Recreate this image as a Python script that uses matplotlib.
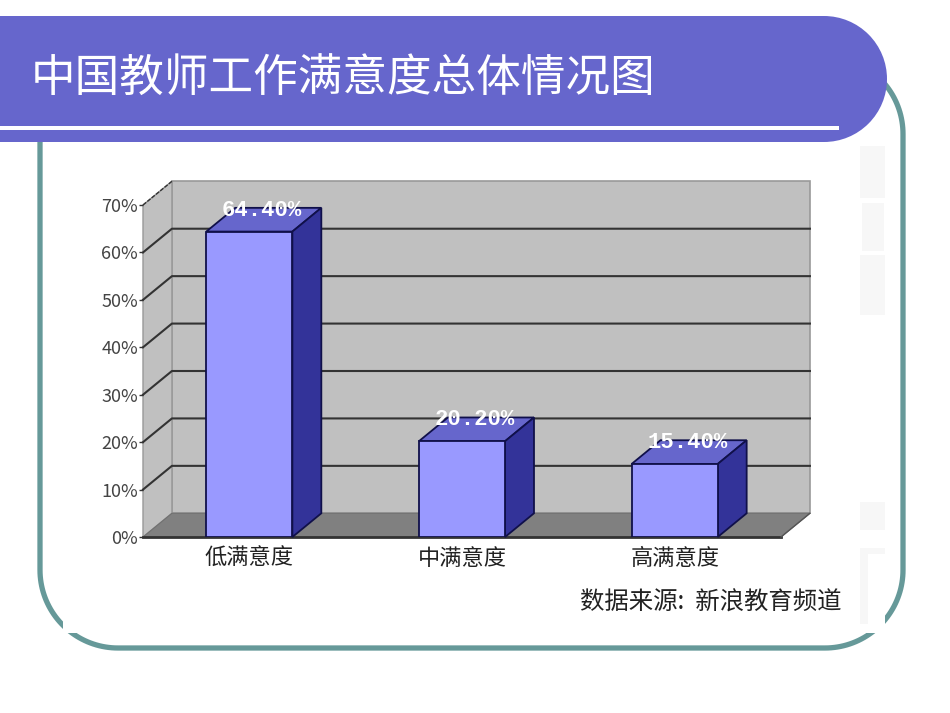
"""Teacher job satisfaction slide: 3D-look bar chart on a banner slide."""
import matplotlib
matplotlib.use("Agg")
import matplotlib.pyplot as plt
import numpy as np
from matplotlib.patches import Circle, Polygon, Rectangle

plt.rcParams["font.family"] = ["Noto Sans CJK SC", "DejaVu Sans"]

TITLE = "中国教师工作满意度总体情况图"
SOURCE = "数据来源:  新浪教育频道"
categories = ["低满意度", "中满意度", "高满意度"]
values = [64.4, 20.2, 15.4]
value_labels = ["64.40%", "20.20%", "15.40%"]
yticks = [0, 10, 20, 30, 40, 50, 60, 70]

W, H = 950, 713
BAR_W = 0.405
DX, DY = 0.136, 5.0  # depth offset of the fake 3D, in data units


def round_box(x0, y0, x1, y1, r):
  # true circular corners, FancyBboxPatch corners come out too square
  pts = []
  for cx, cy, start in [(x1 - r, y0 + r, -90), (x1 - r, y1 - r, 0), (x0 + r, y1 - r, 90), (x0 + r, y0 + r, 180)]:
    a = np.radians(np.linspace(start, start + 90, 40))
    pts.append(np.column_stack([cx + r * np.cos(a), cy + r * np.sin(a)]))
  return np.vstack(pts)


fig = plt.figure(figsize=(9.5, 7.13), dpi=100, facecolor="white")

# slide decoration, in pixels
bg = fig.add_axes([0, 0, 1, 1], zorder=0)
bg.set_xlim(0, W)
bg.set_ylim(H, 0)
bg.axis("off")
bg.add_patch(Polygon(round_box(40, 56, 903, 648, 78), closed=True, fc="white", ec="#669999", lw=3.8))
# the pasted chart image is a white block that cuts the frame corners
bg.add_patch(Rectangle((63, 142), 822, 491, fc="white", ec="none"))
# faint remains of a watermark at the right
for x, y, w, h in [(860, 146, 25, 52), (862, 203, 22, 48), (860, 255, 25, 60), (860, 502, 25, 28), (860, 548, 8, 76), (868, 548, 17, 6)]:
  bg.add_patch(Rectangle((x, y), w, h, fc="#f7f7f7", ec="none"))
bg.add_patch(Rectangle((0, 16), 824, 126, fc="#6666cc", ec="none"))
bg.add_patch(Circle((824, 79), 63, fc="#6666cc", ec="none"))
bg.add_patch(Rectangle((0, 125.5), 839, 4, fc="white", ec="none"))
bg.text(31, 79, TITLE, color="white", fontsize=32.1, va="center", ha="left")
bg.text(841, 603, SOURCE, color="#222222", fontsize=17.6, va="center", ha="right")

# chart: axes box is the front plane of the 3D plot
ax = fig.add_axes([143 / W, 1 - 537 / H, 638 / W, 332 / H], zorder=1)
ax.set_xlim(0, 3)
ax.set_ylim(0, 70)
ax.patch.set_alpha(0)
for s in ax.spines.values():
  s.set_visible(False)

# walls and floor
ax.add_patch(Polygon([(DX, DY), (3 + DX, DY), (3 + DX, 70 + DY), (DX, 70 + DY)], closed=True,
                     fc="#c0c0c0", ec="#999999", lw=1.2, clip_on=False, zorder=1))
ax.add_patch(Polygon([(0, 0), (DX, DY), (DX, 70 + DY), (0, 70)], closed=True,
                     fc="#c0c0c0", ec="#999999", lw=1, clip_on=False, zorder=1))
ax.add_patch(Polygon([(0, 0), (3, 0), (3 + DX, DY), (DX, DY)], closed=True,
                     fc="#808080", ec="#707070", lw=0.8, clip_on=False, zorder=2))
for t in yticks[1:-1]:
  ax.plot([0, DX, 3 + DX], [t, t + DY, t + DY], color="#333333", lw=1.5, clip_on=False, zorder=2)
ax.plot([0, DX], [70, 70 + DY], color="#333333", lw=1, ls=(0, (3, 1)), clip_on=False, zorder=2)
ax.plot([0, 3], [0, 0], color="#333333", lw=2, clip_on=False, zorder=3)
ax.plot([3, 3 + DX], [0, DY], color="#555555", lw=1, clip_on=False, zorder=3)

# bars
for i, v in enumerate(values):
  x0 = i + 0.5 - BAR_W / 2
  x1 = i + 0.5 + BAR_W / 2
  ax.bar(i + 0.5, v, width=BAR_W, color="#9999ff", edgecolor="#10104a", linewidth=1.3, zorder=5)
  ax.add_patch(Polygon([(x0, v), (x1, v), (x1 + DX, v + DY), (x0 + DX, v + DY)], closed=True,
                       fc="#6666cc", ec="#10104a", lw=1.3, clip_on=False, zorder=4))
  ax.add_patch(Polygon([(x1, 0), (x1 + DX, DY), (x1 + DX, v + DY), (x1, v)], closed=True,
                       fc="#333399", ec="#10104a", lw=1.3, clip_on=False, zorder=4))
  ax.text(x0 + 0.5 * (BAR_W + DX) - 0.008, v + DY - 0.5, value_labels[i], color="white",
          family="Liberation Mono", fontweight="bold", fontsize=16, ha="center", va="center",
          clip_on=False, zorder=6)

ax.set_yticks(yticks, [f"{t}%" for t in yticks])
ax.set_xticks([0.5, 1.5, 2.5], categories)
ax.tick_params(axis="y", length=3, width=1, color="#333333", labelcolor="#444444", labelsize=13, pad=0.5)
ax.tick_params(axis="x", length=0, labelcolor="#222222", labelsize=16, pad=7)

fig.savefig("out.png", dpi=100)
